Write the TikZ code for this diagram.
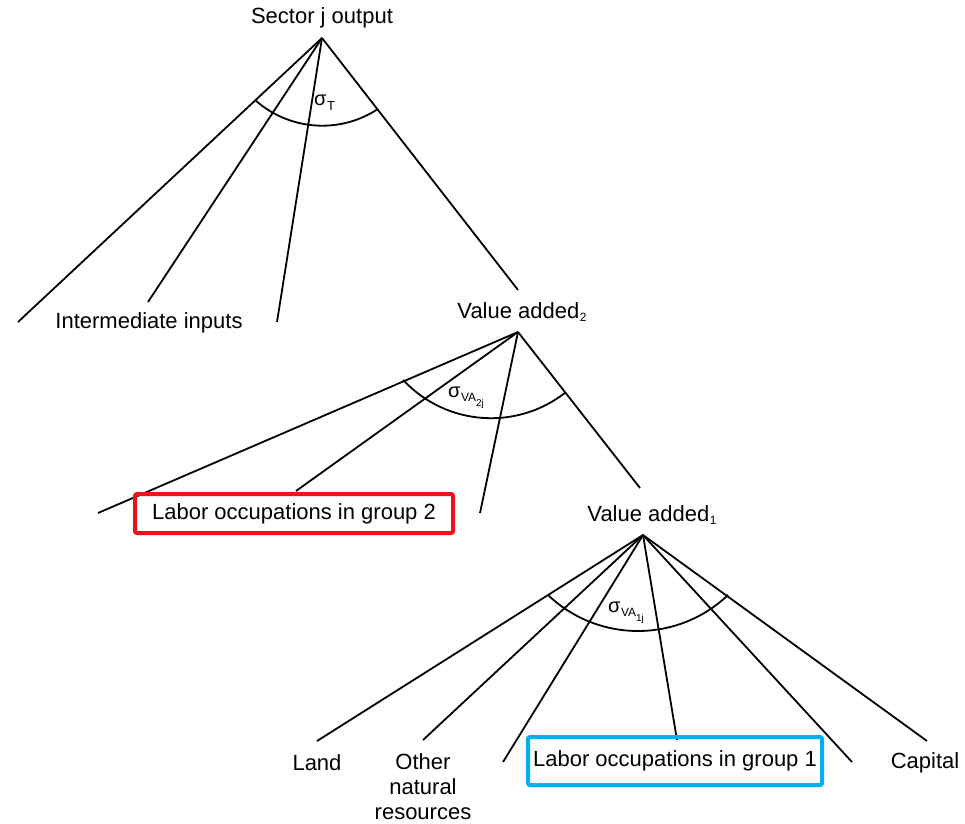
\documentclass[tikz,border=0pt]{standalone}
\usepackage{fontspec}
\setmainfont{Liberation Sans}
\definecolor{boxred}{RGB}{235,20,30}
\definecolor{boxblue}{RGB}{0,176,240}
% elasticity symbol: sigma with a subscript and a sub-subscript
\newcommand\elsym[2]{σ\kern0.5pt\raisebox{-4pt}{\fontsize{12}{12}\selectfont #1\raisebox{-5pt}{\fontsize{10}{10}\selectfont #2}}}
\newcommand\lowsub[1]{\kern0.5pt\raisebox{-3pt}{\fontsize{12}{12}\selectfont #1}}
\begin{document}
\begin{tikzpicture}[x=1pt,y=-1pt,
  branch/.style={line width=1.8pt},
  nestarc/.style={line width=1.8pt},
  lbl/.style={inner sep=0pt, font=\fontsize{22}{26}\selectfont},
  sig/.style={inner sep=0pt, anchor=base west, font=\fontsize{20}{22}\selectfont},
  groupbox/.style={draw, line width=4pt, rounded corners=2pt, inner sep=0pt,
    font=\fontsize{22}{26}\selectfont},
]
\useasboundingbox (0,0) rectangle (965,823);

% ---- top nest: sector output ----
\node[lbl] (out) at (322,18) {Sector j output};
\coordinate (top) at (322,38);
\coordinate (ii1) at (18,322);
\coordinate (ii2) at (148,302);
\coordinate (ii3) at (277,322);
\coordinate (va2in) at (518,290);
\node[lbl] (inter) at (149,323) {Intermediate inputs};
\foreach \e in {ii1,ii2,ii3,va2in} \draw[branch] (top) -- (\e);
\draw[nestarc] ([shift={(131.9:100.8)}]322.3,24.9) arc[start angle=131.9, end angle=56.5, radius=100.8];
\node[sig] (sT) at (314,105) {σ\kern0.5pt\raisebox{-5pt}{\fontsize{13}{13}\selectfont T}};

% ---- value added 2 nest ----
\node[lbl] (va2) at (522,312) {Value added\lowsub{2}};
\coordinate (top2) at (518,332);
\coordinate (l2a) at (98,513);
\coordinate (l2b) at (296,491);
\coordinate (l2c) at (480,513);
\coordinate (va1in) at (640,488);
\foreach \e in {l2a,l2b,l2c,va1in} \draw[branch] (top2) -- (\e);
\draw[nestarc] ([shift={(137:120.3)}]491.1,297.9) arc[start angle=137, end angle=52.2, radius=120.3];
\node[sig] (sVA2) at (448,397) {\elsym{VA}{2j}};
\node[groupbox, draw=boxred, minimum width=318pt, minimum height=39pt] (lab2) at (294,513.5)
  {Labor occupations in group 2};

% ---- value added 1 nest ----
\node[lbl] (va1) at (652,515) {Value added\lowsub{1}};
\coordinate (top1) at (643,535);
\coordinate (l1a) at (317,741);
\coordinate (l1b) at (423,740);
\coordinate (l1c) at (503,762);
\coordinate (l1d) at (677,740);
\coordinate (l1e) at (852,762);
\coordinate (l1f) at (927,741);
\foreach \e in {l1a,l1b,l1c,l1d,l1e,l1f} \draw[branch] (top1) -- (\e);
\draw[nestarc] ([shift={(133.6:130.5)}]638,500.5) arc[start angle=133.6, end angle=46.4, radius=130.5];
\node[sig] (sVA1) at (608,612) {\elsym{VA}{1j}};

\node[lbl] (land) at (317,763) {Land};
\node[lbl, align=center, font=\fontsize{22}{25}\selectfont] (nat) at (423,787) {Other\\natural\\resources};
\node[groupbox, draw=boxblue, minimum width=294pt, minimum height=48pt] (lab1) at (675,761)
  {Labor occupations in group 1};
\node[lbl] (cap) at (925,763) {Capital};
\end{tikzpicture}
\end{document}
